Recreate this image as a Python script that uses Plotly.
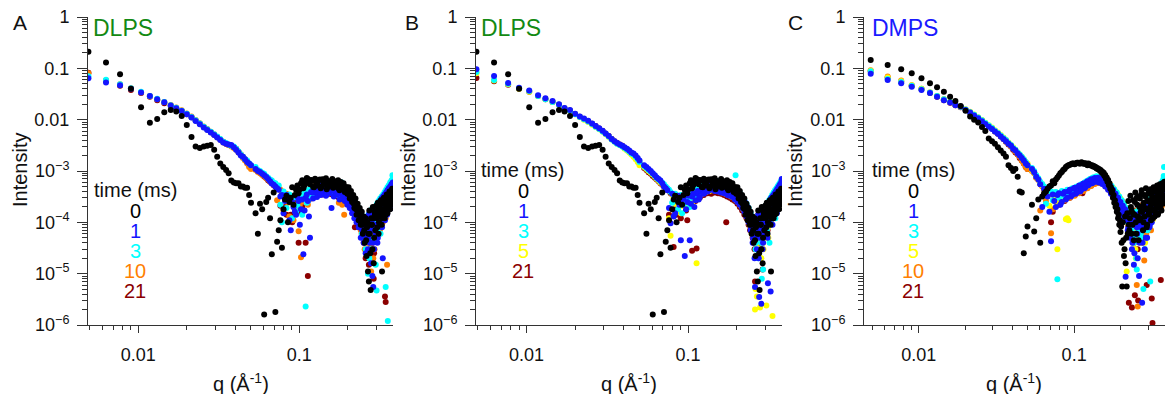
import plotly.graph_objects as go

# ---------------- data ----------------
q = [0.0049, 0.0063, 0.0077, 0.0090, 0.0104, 0.0118, 0.0131, 0.0145, 0.0159, 0.0172,
     0.0186, 0.0200, 0.0214, 0.0227, 0.0241, 0.0255, 0.0268, 0.0282, 0.0296, 0.0309,
     0.0323, 0.0337, 0.0351, 0.0364, 0.0378, 0.0392, 0.0405, 0.0419, 0.0433, 0.0446,
     0.0460, 0.0474, 0.0488, 0.0501,
     0.0535, 0.057, 0.0605, 0.064, 0.0675, 0.071, 0.0745, 0.078, 0.0815, 0.085,
     0.0885, 0.092, 0.0955, 0.099, 0.1025, 0.106, 0.1095, 0.113, 0.1165, 0.12,
     0.1235, 0.127, 0.1305, 0.134, 0.1375, 0.141, 0.1445, 0.148, 0.1515, 0.155,
     0.1585, 0.162, 0.1655, 0.169, 0.1725, 0.176, 0.1795, 0.183, 0.1865, 0.19,
     0.1935, 0.197, 0.2005, 0.204, 0.2075, 0.211, 0.2145, 0.218, 0.2215, 0.225,
     0.2285, 0.232, 0.2355, 0.239, 0.2425, 0.246, 0.2495, 0.253, 0.2565, 0.26,
     0.2635, 0.267, 0.2705, 0.274, 0.2775, 0.281, 0.2845, 0.288, 0.2915, 0.295,
     0.2985, 0.302, 0.3055, 0.309, 0.3125, 0.316, 0.3195, 0.323, 0.3265, 0.33,
     0.3335, 0.337, 0.3405, 0.344, 0.3475, 0.351, 0.3545, 0.358, 0.3615, 0.365,
     0.3685, 0.372, 0.3755, 0.379]

# second (interleaved) set of high-q points
q2 = [0.0553, 0.0588, 0.0623, 0.0658, 0.0693, 0.0728, 0.0763, 0.0798, 0.0833, 0.0868,
      0.0903, 0.0938, 0.0973, 0.1008, 0.1043, 0.1078, 0.1113, 0.1148, 0.1183, 0.1218,
      0.1253, 0.1288, 0.1323, 0.1358, 0.1393, 0.1428, 0.1463, 0.1498, 0.1533, 0.1568,
      0.1603, 0.1638, 0.1673, 0.1708, 0.1743, 0.1778, 0.1813, 0.1848, 0.1883, 0.1918,
      0.1953, 0.1988, 0.2023, 0.2058, 0.2093, 0.2128, 0.2163, 0.2198, 0.2233, 0.2268,
      0.2303, 0.2338, 0.2373, 0.2408, 0.2443, 0.2478, 0.2513, 0.2548, 0.2583, 0.2618,
      0.2653, 0.2688, 0.2723, 0.2758, 0.2793, 0.2828, 0.2863, 0.2898, 0.2933, 0.2968,
      0.3003, 0.3038, 0.3073, 0.3108, 0.3143, 0.3178, 0.3213, 0.3248, 0.3283, 0.3318,
      0.3353, 0.3388, 0.3423, 0.3458, 0.3493, 0.3528, 0.3563, 0.3598, 0.3633, 0.3668,
      0.3703, 0.3738, 0.3773, 0.3806]

# DLPS, 0 ms (panels A and B)
dlps_0 = [0.21, 0.13, 0.077, 0.040, 0.0174, 0.0087, 0.0103, 0.0139, 0.0154, 0.0144,
          0.0118, 0.0079, 0.0046, 0.0030, 0.0028, 0.0030, 0.0031, 0.0032, 0.0026, 0.0019,
          0.0014, 0.0012, 0.00105, 9.0e-4, 6.5e-4, 6.0e-4, 5.8e-4, 5.8e-4, 5.0e-4, 5.0e-4,
          4.7e-4, 4.7e-4, 3.4e-4, 2.4e-4,
          1.5e-4, 2.3e-4, 1.6e-6, 3.0e-4, 2.4e-5, 1.8e-6, 7e-5, 3.2e-5, 2.8e-4, 1.0e-4,
          3.0e-4, 2.2e-4, 4.3e-4, 3.7e-4, 5.8e-4, 4.6e-4, 6.2e-4, 7.0e-4, 5.5e-4, 6.5e-4,
          4.8e-4, 6.0e-4, 5.2e-4, 6.8e-4, 5.0e-4, 6.2e-4, 5.6e-4, 4.4e-4, 6.4e-4, 5.3e-4,
          5.9e-4, 4.7e-4, 6.3e-4, 5.1e-4, 5.7e-4, 4.5e-4, 5.4e-4, 4.9e-4, 5.2e-4, 4.3e-4,
          4.6e-4, 4.0e-4, 4.3e-4, 3.5e-4, 3.7e-4, 3.0e-4, 2.8e-4, 2.3e-4, 2.5e-4, 1.8e-4,
          2.0e-4, 1.5e-4, 1.6e-4, 1.2e-4, 1.3e-4, 9e-5, 1.1e-4, 7e-5, 1.0e-4, 4.5e-5,
          8e-5, 1.1e-5, 7e-6, 6e-5, 4.8e-6, 9e-5, 3e-5, 1.2e-4, 5e-5, 1.4e-4,
          1.5e-4, 1.6e-4, 8e-5, 1.8e-4, 1.0e-4, 2.0e-4, 1.3e-4, 1.6e-4, 1.1e-5, 1.2e-4,
          2.4e-4, 1.7e-4, 2.6e-4, 1.4e-4, 2.8e-4, 1.9e-4, 3.0e-4, 2.2e-4, 3.2e-4, 2.5e-4,
          3.4e-4, 2.7e-4, 3.6e-4, 3.0e-4]
dlps_0_b = [6e-5, 1.8e-4, 2.5e-4, 1.2e-4, 3.8e-4, 4.2e-5, 1.1e-4, 1.8e-4, 3.3e-4, 2.5e-4,
            4.8e-4, 3.4e-4, 5.2e-4, 4.4e-4, 6.6e-4, 5.3e-4, 7.3e-4, 5.9e-4, 6.7e-4, 4.9e-4,
            7.1e-4, 5.6e-4, 6.6e-4, 4.6e-4, 6.9e-4, 5.8e-4, 7.2e-4, 4.9e-4, 6.1e-4, 5.5e-4,
            7.0e-4, 4.8e-4, 6.0e-4, 5.6e-4, 6.6e-4, 4.2e-4, 6.1e-4, 5.0e-4, 5.8e-4, 3.9e-4,
            4.9e-4, 3.6e-4, 4.8e-4, 2.9e-4, 4.1e-4, 2.5e-4, 3.4e-4, 1.9e-4, 2.9e-4, 1.4e-4,
            2.3e-4, 1.1e-4, 1.9e-4, 9e-5, 1.6e-4, 6e-5, 1.3e-4, 4e-5, 1.2e-4, 2.2e-5,
            1.0e-4, 6e-5, 1.7e-4, 2.5e-5, 1.2e-4, 9e-5, 2.0e-4, 1.6e-5, 1.6e-4, 7e-5,
            2.1e-4, 1.2e-4, 2.4e-4, 6e-5, 2.2e-4, 1.4e-4, 2.7e-4, 9e-5, 2.3e-4, 1.8e-4,
            3.0e-4, 1.2e-4, 2.9e-4, 2.0e-4, 3.5e-4, 1.5e-4, 3.3e-4, 2.4e-4, 4.0e-4, 1.8e-4,
            3.8e-4, 2.9e-4, 4.5e-4, 2.2e-4]

# Panel A (DLPS)
a_1 = [0.064, 0.053, 0.047, 0.040, 0.034, 0.029, 0.025, 0.0218, 0.0188, 0.0166,
       0.0148, 0.0127, 0.0110, 0.0094, 0.0081, 0.0070, 0.0063, 0.0056, 0.0050, 0.0045,
       0.0040, 0.0036, 0.0034, 0.0033, 0.0032, 0.0029, 0.0026, 0.0023, 0.0020, 0.0019,
       0.0017, 0.0015, 0.0014, 0.0013,
       1.1e-3, 9.6e-4, 8.3e-4, 7.0e-4, 5.7e-4, 5.0e-4, 4.3e-4, 3.4e-4, 2.6e-4, 3.0e-4,
       7e-5, 2.0e-4, 1.4e-4, 2.6e-4, 1.8e-4, 2.4e-5, 3.0e-4, 2.6e-4, 5e-5, 3.8e-4,
       3.8e-4, 4.5e-4, 3.6e-4, 4.2e-4, 4.9e-4, 4.0e-4, 4.4e-4, 3.5e-4, 4.8e-4, 4.2e-4,
       1.9e-4, 4.6e-4, 4.0e-4, 4.7e-4, 3.8e-4, 4.4e-4, 3.6e-4, 4.5e-4, 3.4e-4, 4.1e-4,
       3.5e-4, 2.9e-4, 3.4e-4, 2.6e-4, 3.1e-4, 2.2e-4, 1.7e-4, 2.5e-4, 1.8e-4, 2.1e-4,
       1.5e-4, 1.2e-4, 1.7e-4, 1.0e-4, 1.4e-4, 7e-5, 1.1e-4, 6e-5, 1.2e-4, 5e-5,
       9e-5, 3e-5, 1.1e-4, 4e-5, 7e-5, 8e-5, 9e-6, 5.5e-6, 3e-5, 1.2e-4,
       6e-5, 1.4e-4, 4e-5, 1.6e-4, 9e-5, 1.9e-4, 1.2e-4, 2.2e-4, 8e-5, 2e-5,
       1.5e-4, 2.8e-4, 1.1e-4, 3.0e-4, 2.0e-4, 1.4e-4, 3.2e-4, 2.3e-4, 1.8e-4, 3.5e-4,
       2.6e-4, 4.0e-4, 1.9e-4, 4.5e-4]
a_1_b = [1.0e-3, 8.8e-4, 7.6e-4, 6.3e-4, 5.4e-4, 4.6e-4, 3.2e-4, 1.5e-4, 3.4e-4, 1.1e-4,
         2.5e-4, 1.6e-4, 3.1e-4, 9e-5, 2.8e-4, 1.7e-4, 3.5e-4, 1.3e-4, 3.9e-4, 2.9e-4,
         4.6e-4, 3.1e-4, 5.3e-4, 3.4e-4, 4.7e-4, 5.5e-4, 3.3e-4, 5.0e-4, 3.7e-4, 5.4e-4,
         4.3e-4, 3.2e-4, 5.1e-4, 3.5e-4, 4.9e-4, 2.8e-4, 4.5e-4, 3.0e-4, 4.2e-4, 2.6e-4,
         3.9e-4, 2.2e-4, 3.6e-4, 1.9e-4, 2.9e-4, 1.5e-4, 2.6e-4, 1.2e-4, 2.1e-4, 1.0e-4,
         1.8e-4, 8e-5, 1.5e-4, 5e-5, 1.2e-4, 9e-5, 4e-5, 1.0e-4, 2.5e-5, 8e-5,
         1.3e-4, 5e-5, 1.5e-4, 7e-5, 1.6e-5, 1.1e-4, 4e-5, 1.4e-4, 7e-5, 1.7e-4,
         9e-5, 2.0e-4, 5e-5, 2.3e-4, 1.3e-4, 2.6e-4, 1.0e-4, 2.9e-4, 1.6e-4, 3.2e-4,
         1.2e-4, 3.5e-4, 2.0e-4, 3.8e-4, 1.6e-4, 4.2e-4, 2.5e-4, 4.6e-4, 2.0e-4, 5.0e-4,
         3.0e-4, 5.5e-4, 2.4e-4, 6.0e-4]

a_3 = [0.070, 0.060, 0.049, 0.041, 0.035, 0.029, 0.0255, 0.022, 0.019, 0.0170,
       0.0150, 0.0130, 0.0113, 0.0097, 0.0084, 0.0073, 0.0065, 0.0058, 0.0052, 0.0047,
       0.0042, 0.0037, 0.0035, 0.0033, 0.0031, 0.0030, 0.0027, 0.0024, 0.0021, 0.0019,
       0.0017, 0.0016, 0.0014, 0.0013,
       1.2e-3, 1.0e-3, 8.8e-4, 7.4e-4, 6.5e-4, 5.8e-4, 5.2e-4, 1.0e-4, 3.0e-4, 3.3e-4,
       2.5e-4, 3.0e-4, 1.6e-4, 2.8e-4, 3.2e-4, 3.0e-4, 2.3e-6, 2.6e-4, 4.0e-4, 3.5e-4,
       4.5e-4, 4.0e-4, 4.8e-4, 4.3e-4, 5.0e-4, 4.4e-4, 5.2e-4, 4.6e-4, 5.0e-4, 4.3e-4,
       4.9e-4, 4.1e-4, 4.8e-4, 4.0e-4, 4.6e-4, 3.9e-4, 4.5e-4, 6.0e-4, 4.2e-4, 3.7e-4,
       4.0e-4, 3.3e-4, 3.7e-4, 3.1e-4, 3.3e-4, 2.6e-4, 2.9e-4, 2.3e-4, 2.4e-4, 1.9e-4,
       2.0e-4, 1.5e-4, 1.6e-4, 1.2e-4, 1.4e-4, 1.0e-4, 1.2e-4, 7e-5, 1.0e-4, 6e-5,
       8e-5, 1.0e-5, 5e-5, 9e-5, 3e-5, 7e-5, 1.1e-4, 8e-5, 5e-5, 1.0e-4,
       1.5e-5, 4.7e-6, 7e-5, 1.4e-4, 1.1e-4, 1.6e-4, 6e-5, 1.9e-4, 1.5e-4, 2.1e-4,
       1.3e-4, 2.4e-4, 1.7e-4, 5.5e-6, 1.4e-4, 3.0e-4, 1.2e-6, 3.3e-4, 2.4e-4, 3.8e-4,
       2.8e-4, 5.0e-4, 3.0e-4, 8.3e-4]
a_3_b = [1.05e-3, 9.2e-4, 7.9e-4, 6.8e-4, 5.9e-4, 5.1e-4, 2.2e-4, 4.0e-4, 1.9e-4, 3.5e-4,
         1.2e-4, 3.2e-4, 2.1e-4, 3.6e-4, 1.4e-4, 3.9e-4, 2.4e-4, 4.3e-4, 3.0e-4, 4.6e-4,
         3.5e-4, 5.4e-4, 3.9e-4, 5.8e-4, 4.2e-4, 6.1e-4, 3.8e-4, 5.7e-4, 4.1e-4, 5.9e-4,
         3.7e-4, 5.5e-4, 3.6e-4, 5.3e-4, 3.4e-4, 5.0e-4, 3.2e-4, 4.7e-4, 2.9e-4, 4.4e-4,
         2.7e-4, 4.0e-4, 2.4e-4, 3.6e-4, 2.1e-4, 3.1e-4, 1.8e-4, 2.7e-4, 1.5e-4, 2.3e-4,
         1.2e-4, 1.9e-4, 9e-5, 1.6e-4, 6e-5, 1.3e-4, 5e-5, 1.1e-4, 3e-5, 9e-5,
         6e-5, 1.4e-4, 2e-5, 1.2e-4, 8e-5, 1.8e-4, 5e-5, 1.5e-4, 9e-5, 2.0e-4,
         1.2e-4, 2.3e-4, 8e-5, 2.6e-4, 1.5e-4, 2.9e-4, 1.1e-4, 3.2e-4, 1.9e-4, 3.5e-4,
         2.2e-4, 3.9e-4, 1.6e-4, 4.3e-4, 2.6e-4, 4.8e-4, 2.1e-4, 5.3e-4, 3.1e-4, 6.0e-4,
         3.6e-4, 6.5e-4, 4.0e-4, 7.2e-4]

a_10 = [0.080, 0.058, 0.049, 0.041, 0.034, 0.029, 0.025, 0.022, 0.0192, 0.0172,
        0.0152, 0.0132, 0.0115, 0.0098, 0.0085, 0.0074, 0.0066, 0.0058, 0.0052, 0.0046,
        0.0041, 0.0036, 0.0034, 0.0032, 0.0030, 0.0028, 0.0026, 0.0023, 0.0021, 0.0018,
        0.0016, 0.0014, 0.0012, 0.0011,
        1.05e-3, 9.0e-4, 8.0e-4, 6.8e-4, 6.0e-4, 5.3e-4, 4.6e-4, 4.0e-4, 3.2e-4, 2.4e-4,
        3.0e-4, 1.1e-4, 2.2e-4, 6.7e-5, 2.1e-5, 2.6e-4, 3.1e-4, 2.2e-4, 3.6e-4, 3.9e-4,
        4.0e-4, 4.6e-4, 4.2e-4, 4.8e-4, 4.4e-4, 5.0e-4, 4.5e-4, 4.8e-4, 4.3e-4, 5.1e-4,
        4.4e-4, 4.9e-4, 4.2e-4, 4.7e-4, 4.1e-4, 2.4e-4, 4.3e-4, 3.9e-4, 4.1e-4, 1.4e-4,
        3.8e-4, 3.2e-4, 3.6e-4, 2.9e-4, 3.2e-4, 2.5e-4, 2.7e-4, 2.1e-4, 2.3e-4, 1.6e-4,
        1.9e-4, 1.4e-4, 1.5e-4, 1.1e-4, 1.3e-4, 8e-5, 1.1e-4, 9e-5, 6e-5, 1.0e-4,
        7e-5, 4e-5, 9e-5, 6e-5, 3.5e-5, 8e-5, 5e-5, 2e-5, 9e-5, 6e-5,
        1.1e-4, 8e-5, 1.3e-4, 1.0e-4, 1.5e-4, 7e-5, 1.7e-4, 1.3e-4, 1.9e-4, 1.0e-4,
        2.2e-4, 1.6e-4, 2.5e-4, 1.2e-4, 2.7e-4, 1.5e-5, 2.9e-4, 2.0e-4, 3.2e-4, 2.4e-4,
        3.4e-4, 2.8e-4, 3.7e-4, 3.2e-4]
a_10_b = [9.6e-4, 8.4e-4, 7.2e-4, 6.2e-4, 5.4e-4, 2.7e-4, 4.3e-4, 1.7e-4, 3.6e-4, 1.3e-4,
          2.9e-4, 1.8e-4, 3.3e-4, 2.2e-4, 3.7e-4, 2.6e-4, 4.0e-4, 3.0e-4, 4.3e-4, 3.3e-4,
          5.1e-4, 3.6e-4, 5.5e-4, 3.9e-4, 5.7e-4, 4.1e-4, 5.8e-4, 3.9e-4, 5.6e-4, 3.8e-4,
          5.4e-4, 3.6e-4, 5.2e-4, 3.4e-4, 4.9e-4, 3.2e-4, 4.6e-4, 2.2e-4, 4.3e-4, 2.7e-4,
          4.0e-4, 2.4e-4, 3.6e-4, 2.1e-4, 3.1e-4, 1.8e-4, 2.7e-4, 1.5e-4, 2.3e-4, 1.2e-4,
          1.9e-4, 1.0e-4, 1.6e-4, 7e-5, 1.3e-4, 5e-5, 1.1e-4, 3e-5, 9e-5, 6e-5,
          1.2e-4, 4e-5, 1.4e-4, 8e-5, 1.1e-5, 1.1e-4, 6e-5, 1.6e-4, 3e-5, 1.3e-4,
          9e-5, 1.8e-4, 1.2e-4, 2.1e-4, 6e-5, 2.4e-4, 1.4e-4, 2.7e-4, 1.8e-4, 3.0e-4,
          1.3e-4, 3.3e-4, 2.1e-4, 3.6e-4, 1.7e-4, 4.0e-4, 2.5e-4, 4.4e-4, 2.0e-4, 4.8e-4,
          3.0e-4, 5.2e-4, 2.6e-4, 5.7e-4]

a_21 = [0.082, 0.057, 0.046, 0.038, 0.033, 0.028, 0.024, 0.021, 0.0185, 0.0165,
        0.0147, 0.0127, 0.0111, 0.0096, 0.0083, 0.0072, 0.0064, 0.0057, 0.0051, 0.0046,
        0.0041, 0.0037, 0.0034, 0.0032, 0.0031, 0.0029, 0.0027, 0.0024, 0.0021, 0.0019,
        0.0017, 0.0015, 0.0013, 0.0012,
        1.1e-3, 9.2e-4, 7.8e-4, 6.6e-4, 5.8e-4, 5.0e-4, 4.4e-4, 3.7e-4, 2.0e-4, 3.2e-4,
        1.4e-4, 2.6e-4, 2.0e-4, 4.0e-5, 1.6e-4, 2.8e-4, 4e-5, 9e-6, 3.4e-4, 3.8e-4,
        3.6e-4, 4.2e-4, 4.0e-4, 4.4e-4, 3.8e-4, 4.6e-4, 4.1e-4, 4.5e-4, 4.0e-4, 4.7e-4,
        4.2e-4, 4.6e-4, 4.1e-4, 4.4e-4, 4.0e-4, 4.2e-4, 3.9e-4, 4.0e-4, 3.7e-4, 3.9e-4,
        3.4e-4, 3.6e-4, 3.0e-4, 3.2e-4, 2.6e-4, 2.8e-4, 2.2e-4, 2.4e-4, 8e-5, 2.0e-4,
        1.6e-4, 1.7e-4, 1.3e-4, 1.4e-4, 1.1e-4, 1.2e-4, 9e-5, 1.0e-4, 7e-5, 8e-5,
        6e-5, 7e-5, 1.5e-5, 6e-5, 5e-5, 9e-5, 4e-5, 7e-5, 2.5e-5, 9e-5,
        6e-5, 1.1e-4, 8e-5, 1.3e-4, 1.0e-4, 1.5e-4, 1.2e-4, 1.7e-4, 1.3e-4, 1.9e-4,
        1.5e-4, 2.1e-4, 3.6e-6, 2.8e-6, 1.9e-4, 2.5e-4, 2.1e-4, 2.7e-4, 2.3e-4, 2.9e-4,
        2.5e-4, 3.1e-4, 2.7e-4, 3.3e-4]
a_21_b = [1.0e-3, 8.6e-4, 7.3e-4, 6.2e-4, 5.3e-4, 4.6e-4, 2.1e-4, 3.4e-4, 1.4e-4, 3.0e-4,
          1.0e-4, 2.7e-4, 1.6e-4, 3.1e-4, 2.0e-4, 3.4e-4, 2.5e-4, 3.7e-4, 2.9e-4, 4.1e-4,
          3.3e-4, 4.9e-4, 3.6e-4, 5.2e-4, 3.5e-4, 5.4e-4, 3.7e-4, 5.2e-4, 3.6e-4, 5.0e-4,
          3.5e-4, 4.9e-4, 3.3e-4, 4.7e-4, 3.1e-4, 4.4e-4, 2.9e-4, 4.1e-4, 2.7e-4, 3.8e-4,
          2.5e-4, 3.5e-4, 2.2e-4, 3.1e-4, 1.9e-4, 2.7e-4, 1.6e-4, 2.3e-4, 1.3e-4, 1.9e-4,
          1.1e-4, 1.6e-4, 8e-5, 1.3e-4, 6e-5, 1.1e-4, 4e-5, 9e-5, 2e-5, 7e-5,
          1.1e-4, 5e-5, 1.3e-4, 3e-5, 1.0e-4, 6e-5, 1.5e-4, 8e-6, 1.2e-4, 7e-5,
          1.7e-4, 1.0e-4, 2.0e-4, 6e-5, 2.3e-4, 1.3e-4, 2.6e-4, 9e-5, 2.9e-4, 1.7e-4,
          3.2e-4, 1.4e-4, 3.5e-4, 2.1e-4, 3.9e-4, 1.7e-4, 4.3e-4, 2.6e-4, 4.7e-4, 2.1e-4,
          5.1e-4, 3.1e-4, 5.6e-4, 2.6e-4]

# Panel B (DLPS)
b_1 = [0.096, 0.071, 0.052, 0.042, 0.037, 0.030, 0.026, 0.023, 0.0200, 0.0168,
       0.0154, 0.0130, 0.0115, 0.0105, 0.0095, 0.0084, 0.0075, 0.0068, 0.0061, 0.0054,
       0.0048, 0.0042, 0.0038, 0.0035, 0.0033, 0.0031, 0.0029, 0.0027, 0.0025, 0.0023,
       0.0022, 0.0020, 0.0018, 0.0016,
       1.3e-3, 1.1e-3, 9.0e-4, 7.5e-4, 6.5e-4, 5.0e-4, 4.2e-4, 9.6e-5, 1.3e-4, 3.0e-4,
       2.2e-4, 2.8e-4, 2.2e-5, 2.5e-4, 4.5e-5, 3.2e-4, 2.0e-4, 3.6e-4, 2.8e-4, 4.0e-4,
       4.4e-4, 3.8e-4, 4.8e-4, 4.2e-4, 5.2e-4, 4.5e-4, 5.0e-4, 4.3e-4, 5.3e-4, 4.6e-4,
       5.0e-4, 4.2e-4, 5.4e-4, 4.4e-4, 5.0e-4, 3.4e-4, 4.7e-4, 4.1e-4, 5.1e-4, 3.8e-4,
       4.2e-4, 3.4e-4, 3.8e-4, 2.9e-4, 3.3e-4, 2.4e-4, 2.8e-4, 2.0e-4, 2.3e-4, 1.6e-4,
       1.8e-4, 1.3e-4, 1.5e-4, 1.0e-4, 1.2e-4, 8e-5, 9e-5, 5e-5, 7e-5, 5.5e-6,
       6e-5, 3e-5, 7e-5, 2e-5, 8e-5, 5e-5, 2.6e-6, 7e-5, 4e-5, 9e-5,
       6e-5, 1.1e-4, 8e-5, 1.3e-4, 6.5e-6, 1.5e-4, 1.1e-4, 1.8e-4, 1.4e-4, 2.1e-4,
       9e-5, 2.4e-4, 1.7e-4, 2.7e-4, 2.0e-4, 3.0e-4, 1.5e-4, 3.3e-4, 2.5e-4, 3.7e-4,
       2.9e-4, 4.2e-4, 3.2e-4, 5.5e-4]
b_1_b = [1.2e-3, 1.0e-3, 8.3e-4, 7.0e-4, 5.8e-4, 4.6e-4, 1.9e-4, 3.6e-4, 1.5e-4, 3.3e-4,
         4.5e-5, 2.9e-4, 1.8e-4, 3.3e-4, 2.3e-4, 3.7e-4, 2.7e-4, 4.1e-4, 3.1e-4, 4.6e-4,
         3.6e-4, 5.5e-4, 4.0e-4, 5.9e-4, 4.3e-4, 6.2e-4, 4.1e-4, 6.0e-4, 4.0e-4, 5.8e-4,
         3.8e-4, 5.6e-4, 3.7e-4, 5.4e-4, 3.5e-4, 5.1e-4, 3.3e-4, 4.8e-4, 3.1e-4, 4.5e-4,
         2.8e-4, 4.1e-4, 2.5e-4, 3.7e-4, 2.2e-4, 3.2e-4, 1.9e-4, 2.8e-4, 1.6e-4, 2.4e-4,
         1.3e-4, 2.0e-4, 1.0e-4, 1.6e-4, 7e-5, 1.3e-4, 4e-5, 1.1e-4, 2e-5, 8e-5,
         1.2e-4, 5e-5, 1.4e-4, 3.5e-6, 1.1e-4, 6e-5, 1.6e-4, 3e-5, 1.3e-4, 8e-5,
         1.8e-4, 1.0e-4, 2.1e-4, 5e-5, 2.4e-4, 1.4e-4, 2.7e-4, 4.5e-6, 3.0e-4, 1.8e-4,
         3.3e-4, 1.5e-4, 3.6e-4, 2.2e-4, 4.0e-4, 1.8e-4, 4.4e-4, 2.8e-4, 4.9e-4, 2.3e-4,
         5.4e-4, 3.4e-4, 6.0e-4, 7.0e-4]

b_3 = [0.085, 0.059, 0.050, 0.041, 0.036, 0.029, 0.025, 0.022, 0.0195, 0.0165,
       0.0150, 0.0128, 0.0113, 0.0102, 0.0092, 0.0082, 0.0073, 0.0066, 0.0059, 0.0053,
       0.0047, 0.0041, 0.0037, 0.0034, 0.0032, 0.0030, 0.0028, 0.0026, 0.0024, 0.0022,
       0.0021, 0.0019, 0.0017, 0.0015,
       1.25e-3, 1.05e-3, 8.8e-4, 7.3e-4, 6.3e-4, 5.5e-4, 4.6e-4, 3.9e-4, 3.4e-4, 2.7e-4,
       3.1e-4, 1.5e-4, 2.9e-4, 3.2e-4, 2.0e-4, 3.4e-4, 3.7e-4, 2.9e-4, 4.1e-4, 4.5e-4,
       4.9e-4, 4.3e-4, 5.3e-4, 4.6e-4, 5.5e-4, 4.8e-4, 5.6e-4, 5.0e-4, 5.4e-4, 4.7e-4,
       5.5e-4, 4.8e-4, 5.2e-4, 4.5e-4, 5.0e-4, 4.4e-4, 4.8e-4, 4.2e-4, 4.6e-4, 4.0e-4,
       4.3e-4, 8.3e-4, 3.9e-4, 3.3e-4, 3.6e-4, 2.8e-4, 3.0e-4, 2.3e-4, 2.5e-4, 1.9e-4,
       2.0e-4, 1.5e-4, 1.6e-4, 1.2e-4, 1.3e-4, 9e-5, 1.0e-4, 7e-5, 8e-5, 6e-5,
       4e-5, 7e-5, 5e-5, 2.5e-5, 8e-5, 6e-5, 4e-5, 9e-5, 1.2e-5, 1.1e-4,
       8e-5, 1.3e-4, 1.0e-4, 1.5e-4, 1.2e-4, 1.7e-4, 4e-5, 2.0e-4, 1.6e-4, 2.3e-4,
       1.9e-4, 2.6e-4, 2.2e-4, 2.9e-4, 1.2e-4, 3.2e-4, 2.7e-4, 3.6e-4, 3.0e-4, 4.0e-4,
       3.4e-4, 4.5e-4, 3.8e-4, 5.0e-4]
b_3_b = [1.15e-3, 9.7e-4, 8.1e-4, 6.8e-4, 5.9e-4, 5.0e-4, 4.3e-4, 2.4e-4, 3.6e-4, 1.8e-4,
         3.4e-4, 2.2e-4, 3.7e-4, 2.6e-4, 4.1e-4, 3.0e-4, 4.5e-4, 3.4e-4, 4.9e-4, 3.8e-4,
         5.8e-4, 4.2e-4, 6.2e-4, 4.5e-4, 6.5e-4, 4.7e-4, 6.6e-4, 4.6e-4, 6.4e-4, 4.5e-4,
         6.2e-4, 4.3e-4, 6.0e-4, 4.1e-4, 5.7e-4, 3.9e-4, 5.4e-4, 3.6e-4, 5.0e-4, 3.4e-4,
         4.6e-4, 3.1e-4, 4.2e-4, 2.7e-4, 3.7e-4, 2.4e-4, 3.2e-4, 2.0e-4, 2.7e-4, 1.7e-4,
         2.3e-4, 1.4e-4, 1.9e-4, 1.1e-4, 1.5e-4, 8e-5, 1.2e-4, 5e-5, 1.0e-4, 3e-5,
         8e-5, 1.3e-4, 2e-5, 1.1e-4, 6e-5, 1.5e-4, 8e-6, 1.3e-4, 9e-5, 1.8e-4,
         1.1e-4, 2.1e-4, 7e-5, 2.4e-4, 1.4e-4, 2.7e-4, 1.0e-4, 3.0e-4, 1.8e-4, 3.4e-4,
         2.2e-4, 3.8e-4, 1.6e-4, 4.2e-4, 2.7e-4, 4.6e-4, 2.2e-4, 5.1e-4, 3.2e-4, 5.6e-4,
         3.7e-4, 6.2e-4, 4.2e-4, 6.8e-4]

b_5 = [0.080, 0.058, 0.049, 0.040, 0.035, 0.029, 0.025, 0.022, 0.0192, 0.0163,
       0.0148, 0.0127, 0.0112, 0.0100, 0.0090, 0.0080, 0.0072, 0.0065, 0.0058, 0.0052,
       0.0046, 0.0041, 0.0037, 0.0034, 0.0032, 0.0030, 0.0027, 0.0025, 0.0023, 0.0021,
       0.0019, 0.0017, 0.0015, 0.0013,
       1.2e-3, 1.0e-3, 8.5e-4, 7.1e-4, 6.0e-4, 5.2e-4, 4.5e-4, 5.5e-5, 3.1e-4, 2.6e-4,
       2.8e-4, 2.1e-4, 2.6e-4, 1.9e-4, 3.0e-4, 2.5e-4, 3.3e-4, 1.6e-5, 3.6e-4, 4.1e-4,
       4.2e-4, 4.6e-4, 4.3e-4, 4.9e-4, 4.5e-4, 5.0e-4, 4.6e-4, 5.1e-4, 4.5e-4, 4.9e-4,
       4.4e-4, 4.8e-4, 4.3e-4, 4.7e-4, 4.1e-4, 4.5e-4, 3.9e-4, 4.2e-4, 3.7e-4, 4.0e-4,
       3.5e-4, 3.7e-4, 3.1e-4, 3.3e-4, 2.7e-4, 2.9e-4, 2.3e-4, 2.5e-4, 1.9e-4, 2.1e-4,
       1.6e-4, 1.7e-4, 1.3e-4, 1.4e-4, 1.0e-4, 1.1e-4, 7e-5, 8e-5, 5e-5, 2.0e-6,
       6e-5, 3.6e-6, 4e-5, 7e-5, 3e-5, 6e-5, 2e-5, 8e-5, 4e-5, 9e-5,
       5e-5, 1.0e-4, 2.4e-6, 1.2e-4, 8e-5, 1.4e-4, 1.0e-4, 1.6e-4, 1.2e-4, 1.9e-4,
       1.5e-6, 2.2e-4, 1.6e-4, 2.5e-4, 1.9e-4, 2.8e-4, 2.2e-4, 3.1e-4, 2.5e-4, 3.5e-4,
       2.8e-4, 4.0e-4, 3.1e-4, 4.4e-4]
b_5_b = [1.1e-3, 9.2e-4, 7.8e-4, 6.5e-4, 5.6e-4, 4.8e-4, 1.2e-4, 3.5e-4, 2.3e-4, 3.2e-4,
         1.5e-4, 2.7e-4, 3.6e-4, 2.4e-4, 3.9e-4, 2.8e-4, 4.2e-4, 3.2e-4, 4.6e-4, 3.6e-4,
         5.2e-4, 3.9e-4, 5.5e-4, 4.1e-4, 5.7e-4, 4.2e-4, 5.8e-4, 4.1e-4, 5.6e-4, 4.0e-4,
         5.4e-4, 3.8e-4, 5.2e-4, 3.6e-4, 4.9e-4, 3.4e-4, 4.6e-4, 3.2e-4, 4.3e-4, 3.0e-4,
         4.0e-4, 2.7e-4, 3.6e-4, 2.4e-4, 3.2e-4, 2.1e-4, 2.8e-4, 1.8e-4, 2.4e-4, 1.5e-4,
         2.0e-4, 1.2e-4, 1.6e-4, 9e-5, 1.3e-4, 6e-5, 1.0e-4, 4e-5, 8e-5, 5e-6,
         1.1e-4, 4e-5, 1.3e-4, 7e-5, 2.2e-6, 1.0e-4, 5e-5, 1.4e-4, 3e-5, 1.2e-4,
         8e-5, 1.7e-4, 1.1e-4, 2.0e-4, 5e-5, 2.3e-4, 1.3e-4, 2.6e-4, 1.7e-4, 2.9e-4,
         1.2e-4, 3.2e-4, 2.0e-4, 3.5e-4, 1.6e-4, 3.9e-4, 2.4e-4, 4.3e-4, 1.9e-4, 4.7e-4,
         2.9e-4, 5.1e-4, 2.5e-4, 5.6e-4]

b_21 = [0.065, 0.056, 0.048, 0.040, 0.035, 0.029, 0.025, 0.022, 0.0195, 0.0166,
        0.0151, 0.0129, 0.0114, 0.0103, 0.0093, 0.0083, 0.0075, 0.0067, 0.0060, 0.0054,
        0.0048, 0.0042, 0.0038, 0.0035, 0.0033, 0.0031, 0.0028, 0.0026, 0.0024, 0.0022,
        0.0020, 0.0018, 0.0016, 0.0014,
        1.15e-3, 9.5e-4, 8.0e-4, 6.8e-4, 5.8e-4, 5.0e-4, 4.3e-4, 3.7e-4, 3.3e-5, 1.4e-4,
        2.7e-4, 2.3e-4, 2.6e-4, 1.1e-4, 2.9e-4, 2.8e-5, 3.2e-4, 3.1e-5, 3.5e-4, 3.8e-4,
        4.1e-4, 4.5e-4, 4.2e-4, 4.7e-4, 4.4e-4, 4.8e-4, 4.5e-4, 4.9e-4, 4.4e-4, 4.7e-4,
        4.3e-4, 4.6e-4, 4.1e-4, 4.4e-4, 1.0e-4, 4.2e-4, 3.8e-4, 4.0e-4, 3.6e-4, 3.8e-4,
        3.3e-4, 3.5e-4, 3.0e-4, 3.2e-4, 2.6e-4, 2.8e-4, 2.2e-4, 2.4e-4, 1.9e-4, 2.0e-4,
        1.6e-4, 1.7e-4, 1.3e-4, 1.4e-4, 7e-5, 1.1e-4, 9e-5, 1.0e-4, 7e-5, 7e-6,
        6e-5, 4e-5, 7e-5, 5e-5, 8e-5, 3e-5, 7e-5, 9e-5, 6e-5, 1.0e-4,
        7e-5, 1.2e-4, 9e-5, 1.4e-4, 1.1e-4, 1.6e-4, 1.3e-4, 1.8e-4, 1.5e-4, 2.0e-4,
        1.7e-4, 2.2e-4, 1.9e-4, 2.4e-4, 2.1e-4, 2.7e-4, 2.3e-4, 2.9e-4, 2.6e-4, 3.2e-4,
        2.9e-4, 3.5e-4, 3.2e-4, 3.8e-4]
b_21_b = [1.05e-3, 8.8e-4, 7.4e-4, 6.3e-4, 5.4e-4, 4.7e-4, 1.4e-4, 3.5e-4, 1.8e-4, 3.1e-4,
          1.2e-4, 2.8e-4, 1.7e-4, 3.2e-4, 2.2e-4, 3.5e-4, 2.6e-4, 3.8e-4, 3.0e-4, 4.2e-4,
          3.4e-4, 5.0e-4, 3.7e-4, 5.3e-4, 3.6e-4, 5.5e-4, 3.8e-4, 5.3e-4, 3.7e-4, 5.1e-4,
          3.6e-4, 5.0e-4, 3.4e-4, 4.8e-4, 3.2e-4, 4.5e-4, 3.0e-4, 4.2e-4, 2.8e-4, 3.9e-4,
          2.6e-4, 3.6e-4, 2.3e-4, 3.2e-4, 2.0e-4, 2.8e-4, 1.7e-4, 2.4e-4, 1.4e-4, 2.0e-4,
          1.2e-4, 1.7e-4, 9e-5, 1.4e-4, 7e-5, 1.2e-4, 5e-5, 1.0e-4, 3e-5, 8e-5,
          1.2e-4, 6e-5, 1.4e-4, 4e-5, 1.1e-4, 7e-5, 1.6e-4, 1.2e-5, 1.3e-4, 8e-5,
          1.8e-4, 1.1e-4, 2.1e-4, 7e-5, 2.4e-4, 1.4e-4, 2.7e-4, 1.0e-4, 3.0e-4, 1.8e-4,
          3.3e-4, 1.5e-4, 3.6e-4, 2.2e-4, 4.0e-4, 1.8e-4, 4.4e-4, 2.7e-4, 4.8e-4, 2.2e-4,
          5.2e-4, 3.2e-4, 5.7e-4, 2.7e-4]

# Panel C (DMPS)
c_0 = [0.145, 0.116, 0.096, 0.080, 0.064, 0.051, 0.043, 0.035, 0.028, 0.023,
       0.0185, 0.015, 0.0115, 0.0100, 0.0088, 0.0072, 0.0060, 0.0043, 0.0038, 0.0034,
       0.0029, 0.0025, 0.0022, 0.0019, 0.0013, 0.00115, 0.0010, 1.1e-3, 7.7e-4, 4.0e-4,
       3.8e-4, 2.5e-5, 5.3e-5, 8.3e-5,
       2.2e-4, 1.2e-4, 4e-5, 3.7e-4, 4.5e-4, 5.2e-4, 5.8e-4, 7.5e-4, 9e-4, 1.05e-3,
       1.2e-3, 1.3e-3, 1.35e-3, 1.4e-3, 1.4e-3, 1.45e-3, 1.4e-3, 1.45e-3, 1.4e-3, 1.35e-3,
       1.4e-3, 1.3e-3, 1.3e-3, 1.25e-3, 1.2e-3, 1.15e-3, 1.1e-3, 1.05e-3, 9.8e-4, 9.2e-4,
       8.4e-4, 7.5e-4, 6.7e-4, 5.8e-4, 4.8e-4, 4.2e-4, 3.4e-4, 2.7e-4, 2.2e-4, 1.8e-4,
       1.4e-4, 1.1e-4, 8.3e-5, 5.6e-6, 4.5e-5, 3e-5, 1.6e-5, 5.6e-6, 6e-5, 9e-5,
       1.2e-4, 2.0e-4, 6e-5, 1.5e-4, 4.5e-5, 2.5e-4, 1.0e-4, 3.0e-4, 1.3e-4, 4.5e-5,
       2.0e-4, 1.2e-4, 3.5e-4, 1.6e-4, 7e-5, 2.4e-4, 1.3e-4, 3.2e-4, 1.8e-4, 9e-5,
       2.6e-4, 1.5e-4, 3.8e-4, 2.0e-4, 1.1e-4, 2.8e-4, 1.7e-4, 4.0e-4, 2.3e-4, 1.3e-4,
       3.0e-4, 1.9e-4, 4.3e-4, 2.5e-4, 1.5e-4, 3.3e-4, 2.1e-4, 4.6e-4, 2.7e-4, 1.7e-4,
       3.6e-4, 2.3e-4, 5.0e-4, 3.0e-4]
c_0_b = [6.6e-5, 2.8e-4, 3.2e-4, 4.0e-4, 5.0e-4, 6.3e-4, 6.8e-4, 8.2e-4, 9.6e-4, 1.1e-3,
         1.25e-3, 1.32e-3, 1.4e-3, 1.35e-3, 1.45e-3, 1.4e-3, 1.48e-3, 1.38e-3, 1.42e-3, 1.3e-3,
         1.35e-3, 1.28e-3, 1.22e-3, 1.2e-3, 1.12e-3, 1.08e-3, 1.02e-3, 9.5e-4, 8.8e-4, 8.0e-4,
         7.1e-4, 6.2e-4, 5.3e-4, 4.5e-4, 3.8e-4, 3.0e-4, 2.4e-4, 2.0e-4, 1.6e-4, 1.2e-4,
         9e-5, 6.5e-5, 4e-5, 1.0e-4, 2.2e-5, 1.3e-4, 5e-5, 1.5e-4, 2.6e-4, 7e-5,
         3.3e-4, 1.7e-4, 9e-5, 2.7e-4, 1.4e-4, 3.8e-4, 6e-5, 2.2e-4, 3.2e-4, 1.1e-4,
         2.9e-4, 1.6e-4, 4.2e-4, 2.1e-4, 1.0e-4, 3.4e-4, 1.9e-4, 4.6e-4, 8e-5, 2.7e-4,
         3.7e-4, 1.4e-4, 2.5e-4, 4.4e-4, 1.8e-4, 3.2e-4, 1.2e-4, 4.8e-4, 2.7e-4, 1.6e-4,
         3.9e-4, 2.2e-4, 5.2e-4, 1.4e-4, 3.5e-4, 2.6e-4, 5.5e-4, 1.9e-4, 4.0e-4, 3.0e-4,
         5.8e-4, 2.4e-4, 4.4e-4, 6.2e-4]

c_1 = [0.078, 0.059, 0.051, 0.044, 0.038, 0.033, 0.028, 0.024, 0.0215, 0.019,
       0.018, 0.0155, 0.0138, 0.0120, 0.0106, 0.0093, 0.0082, 0.0073, 0.0066, 0.0059,
       0.0053, 0.0047, 0.0042, 0.0038, 0.0034, 0.0031, 0.0027, 0.0025, 0.0022, 0.0020,
       0.0018, 0.0016, 0.0014, 0.0013,
       1.1e-3, 7.7e-4, 5.5e-4, 4.5e-4, 3.2e-4, 4.3e-5, 2.6e-4, 3.4e-4, 2.2e-4, 3.6e-4,
       2.8e-4, 4.0e-4, 3.2e-4, 4.5e-4, 3.6e-4, 4.9e-4, 4.0e-4, 5.4e-4, 4.6e-4, 6.0e-4,
       5.3e-4, 6.6e-4, 5.8e-4, 7.0e-4, 6.2e-4, 7.2e-4, 6.0e-4, 6.8e-4, 5.6e-4, 6.2e-4,
       5.0e-4, 5.6e-4, 4.3e-4, 4.8e-4, 3.6e-4, 4.0e-4, 3.0e-4, 3.3e-4, 2.4e-4, 2.7e-4,
       1.9e-4, 2.2e-4, 1.6e-4, 1.9e-4, 1.3e-4, 1.6e-4, 8.7e-6, 1.3e-4, 7e-5, 1.1e-4,
       5e-5, 1.0e-4, 3e-5, 9e-5, 1.5e-5, 1.2e-4, 6e-5, 8e-5, 2e-5, 1.1e-4,
       4e-5, 9e-5, 1.4e-4, 2.7e-6, 7e-5, 1.3e-4, 3e-5, 1.0e-4, 1.6e-4, 5e-5,
       1.2e-4, 1.9e-4, 8e-5, 1.5e-4, 2.2e-4, 1.0e-4, 1.7e-4, 2.5e-4, 1.3e-4, 2.0e-4,
       2.8e-4, 1.5e-4, 2.3e-4, 3.1e-4, 1.8e-4, 2.6e-4, 3.4e-4, 2.1e-4, 3.0e-4, 3.8e-4,
       2.4e-4, 3.4e-4, 4.2e-4, 2.8e-4]
c_1_b = [9.5e-4, 6.8e-4, 2.0e-4, 4.1e-4, 1.6e-4, 3.5e-4, 2.0e-4, 3.7e-4, 2.5e-4, 3.9e-4,
         3.0e-4, 4.3e-4, 3.4e-4, 4.7e-4, 3.8e-4, 5.2e-4, 4.3e-4, 5.7e-4, 4.8e-4, 6.3e-4,
         5.5e-4, 6.9e-4, 6.0e-4, 7.3e-4, 6.4e-4, 7.4e-4, 6.3e-4, 7.1e-4, 5.9e-4, 6.6e-4,
         5.3e-4, 5.9e-4, 4.6e-4, 5.1e-4, 3.9e-4, 4.3e-4, 3.2e-4, 3.6e-4, 2.6e-4, 3.0e-4,
         2.1e-4, 2.5e-4, 1.7e-4, 2.1e-4, 1.4e-4, 1.8e-4, 1.1e-4, 1.5e-4, 8e-5, 1.3e-4,
         6e-5, 1.1e-4, 4e-5, 1.2e-4, 2.5e-5, 1.0e-4, 1.4e-4, 6e-5, 1.2e-4, 9e-6,
         1.5e-4, 8e-5, 1.1e-4, 4e-5, 1.7e-4, 9e-5, 1.3e-4, 5e-5, 1.9e-4, 1.1e-4,
         1.5e-4, 2.2e-4, 9e-5, 1.8e-4, 2.5e-4, 1.2e-4, 2.1e-4, 2.9e-4, 1.5e-4, 2.4e-4,
         3.2e-4, 1.8e-4, 2.7e-4, 3.6e-4, 2.1e-4, 3.0e-4, 4.0e-4, 2.4e-4, 3.4e-4, 4.5e-4,
         2.8e-4, 3.9e-4, 5.0e-4, 3.3e-4]

c_3 = [0.088, 0.062, 0.054, 0.046, 0.039, 0.034, 0.029, 0.025, 0.022, 0.0195,
       0.0178, 0.0158, 0.0140, 0.0124, 0.0110, 0.0097, 0.0086, 0.0077, 0.0069, 0.0061,
       0.0055, 0.0049, 0.0044, 0.0040, 0.0035, 0.0032, 0.0028, 0.0026, 0.0023, 0.0021,
       0.0019, 0.0017, 0.0015, 0.0013,
       1.15e-3, 8.3e-4, 6.2e-4, 5.0e-4, 4.4e-4, 4.0e-4, 3.8e-4, 7.8e-6, 3.7e-4, 3.8e-4,
       3.9e-4, 4.1e-4, 4.3e-4, 4.5e-4, 4.8e-4, 5.0e-4, 5.3e-4, 5.6e-4, 5.9e-4, 6.3e-4,
       6.6e-4, 7.0e-4, 7.2e-4, 7.5e-4, 7.5e-4, 7.4e-4, 7.2e-4, 6.9e-4, 6.6e-4, 6.2e-4,
       5.8e-4, 5.4e-4, 5.0e-4, 4.6e-4, 4.2e-4, 3.8e-4, 3.5e-4, 3.1e-4, 2.8e-4, 2.5e-4,
       2.3e-4, 2.1e-4, 1.9e-4, 1.7e-4, 1.5e-4, 1.4e-4, 1.2e-4, 1.1e-4, 1.0e-4, 1.2e-4,
       8e-5, 1.4e-4, 6e-5, 1.1e-4, 4e-5, 1.5e-4, 9e-5, 1.2e-5, 1.3e-4, 7e-5,
       1.7e-4, 5e-5, 1.1e-4, 2.0e-4, 8e-5, 1.4e-4, 3e-5, 2.2e-4, 1.2e-4, 1.7e-4,
       9e-5, 2.5e-4, 1.5e-4, 7e-6, 2.0e-4, 2.8e-4, 1.3e-4, 2.3e-4, 3.2e-4, 1.8e-4,
       2.7e-4, 3.6e-4, 2.1e-4, 3.1e-4, 4.0e-4, 2.5e-4, 3.5e-4, 4.5e-4, 3.0e-4, 4.0e-4,
       5.5e-4, 3.5e-4, 7.0e-4, 1.2e-3]
c_3_b = [1.0e-3, 7.2e-4, 5.6e-4, 2.3e-4, 4.2e-4, 2.7e-4, 3.9e-4, 3.0e-4, 4.1e-4, 3.2e-4,
         4.3e-4, 3.6e-4, 4.6e-4, 4.0e-4, 5.0e-4, 4.4e-4, 5.5e-4, 4.9e-4, 6.1e-4, 5.4e-4,
         6.8e-4, 6.0e-4, 7.5e-4, 6.6e-4, 7.9e-4, 6.8e-4, 7.7e-4, 6.6e-4, 7.2e-4, 6.0e-4,
         6.5e-4, 5.3e-4, 5.8e-4, 4.6e-4, 5.1e-4, 4.0e-4, 4.4e-4, 3.4e-4, 3.8e-4, 2.9e-4,
         3.2e-4, 2.4e-4, 2.7e-4, 2.0e-4, 2.3e-4, 1.6e-4, 1.9e-4, 1.3e-4, 1.6e-4, 1.0e-4,
         1.4e-4, 7e-5, 1.3e-4, 5e-5, 1.6e-4, 9e-5, 2.0e-5, 1.4e-4, 8e-5, 1.8e-4,
         1.1e-4, 6e-5, 2.0e-4, 1.3e-4, 5e-6, 1.6e-4, 9e-5, 2.3e-4, 1.4e-4, 7e-5,
         2.6e-4, 1.7e-4, 1.1e-4, 2.9e-4, 1.9e-4, 3.3e-4, 1.4e-4, 2.4e-4, 3.7e-4, 2.0e-4,
         3.0e-4, 4.2e-4, 2.4e-4, 3.5e-4, 4.8e-4, 2.9e-4, 4.0e-4, 5.5e-4, 3.4e-4, 4.6e-4,
         6.3e-4, 4.1e-4, 8.0e-4, 5.2e-4]

c_5 = [0.090, 0.066, 0.056, 0.047, 0.040, 0.034, 0.029, 0.025, 0.022, 0.0195,
       0.018, 0.0160, 0.0142, 0.0126, 0.0111, 0.0098, 0.0087, 0.0078, 0.0070, 0.0062,
       0.0056, 0.0050, 0.0045, 0.0040, 0.0036, 0.0032, 0.0029, 0.0026, 0.0023, 0.0021,
       0.0019, 0.0017, 0.0015, 0.0014,
       1.05e-3, 7.8e-4, 5.8e-4, 4.7e-4, 4.0e-4, 3.6e-4, 3.4e-4, 3.0e-5, 3.3e-4, 3.4e-4,
       1.15e-4, 1.1e-4, 4.0e-4, 4.2e-4, 4.5e-4, 4.8e-4, 5.1e-4, 5.4e-4, 5.8e-4, 6.1e-4,
       6.4e-4, 6.8e-4, 7.1e-4, 7.3e-4, 7.3e-4, 7.1e-4, 6.9e-4, 6.6e-4, 6.3e-4, 5.9e-4,
       5.5e-4, 5.1e-4, 4.8e-4, 4.4e-4, 4.0e-4, 3.7e-4, 3.3e-4, 3.0e-4, 2.7e-4, 2.4e-4,
       2.2e-4, 2.0e-4, 1.8e-4, 1.6e-4, 1.5e-4, 1.3e-4, 1.2e-4, 1.1e-5, 1.1e-4, 9e-5,
       1.3e-4, 6e-5, 1.0e-4, 4e-5, 1.4e-4, 8e-5, 2e-5, 1.2e-4, 6e-5, 1.6e-4,
       1.0e-4, 4e-5, 1.9e-4, 1.3e-4, 7e-5, 2.1e-4, 1.0e-4, 1.6e-4, 5e-5, 2.3e-4,
       1.4e-4, 1.9e-4, 8e-5, 2.6e-4, 1.7e-4, 2.2e-4, 1.1e-4, 2.9e-4, 2.0e-4, 2.5e-4,
       3.2e-4, 1.6e-4, 2.8e-4, 3.5e-4, 2.3e-4, 3.1e-4, 3.9e-4, 2.7e-4, 3.4e-4, 4.3e-4,
       3.0e-4, 3.8e-4, 4.7e-4, 3.3e-4]
c_5_b = [9.2e-4, 6.9e-4, 5.2e-4, 4.3e-4, 2.1e-4, 3.5e-4, 2.5e-4, 3.6e-4, 2.8e-4, 3.8e-4,
         1.2e-4, 4.0e-4, 3.4e-4, 4.4e-4, 3.8e-4, 4.9e-4, 4.3e-4, 5.4e-4, 4.8e-4, 6.0e-4,
         5.4e-4, 6.7e-4, 6.0e-4, 7.5e-4, 6.4e-4, 7.7e-4, 6.5e-4, 7.4e-4, 6.1e-4, 6.9e-4,
         5.6e-4, 6.1e-4, 4.9e-4, 5.4e-4, 4.2e-4, 4.7e-4, 3.6e-4, 4.0e-4, 3.0e-4, 3.4e-4,
         2.5e-4, 2.9e-4, 2.1e-4, 2.4e-4, 1.7e-4, 2.0e-4, 1.4e-4, 1.7e-4, 1.1e-4, 1.4e-4,
         8e-5, 1.2e-4, 5e-5, 1.5e-4, 1.0e-4, 3e-5, 1.3e-4, 7e-5, 1.7e-4, 1.1e-4,
         5e-5, 1.9e-4, 1.2e-4, 8e-5, 2.2e-4, 1.4e-4, 4e-5, 2.0e-4, 1.5e-4, 9e-5,
         2.4e-4, 1.6e-4, 2.8e-4, 1.2e-4, 2.2e-4, 3.1e-4, 1.8e-4, 2.6e-4, 3.5e-4, 2.1e-4,
         1.5e-4, 3.9e-4, 2.6e-4, 3.2e-4, 4.3e-4, 2.2e-4, 3.6e-4, 4.8e-4, 3.1e-4, 4.0e-4,
         5.3e-4, 3.5e-4, 4.6e-4, 6.0e-4]

c_10 = [0.092, 0.069, 0.058, 0.047, 0.040, 0.034, 0.029, 0.025, 0.022, 0.0193,
        0.0177, 0.0157, 0.0139, 0.0123, 0.0109, 0.0096, 0.0085, 0.0076, 0.0068, 0.0060,
        0.0054, 0.0048, 0.0043, 0.0038, 0.0034, 0.0030, 0.0027, 0.0024, 0.0021, 0.0019,
        0.0016, 0.0014, 0.0012, 0.0011,
        1.0e-3, 7.4e-4, 1.7e-4, 4.4e-4, 3.8e-4, 6.1e-5, 3.3e-4, 3.2e-4, 3.2e-4, 3.3e-4,
        3.5e-4, 3.7e-4, 3.9e-4, 4.1e-4, 4.3e-4, 4.5e-4, 4.8e-4, 5.1e-4, 5.4e-4, 5.7e-4,
        6.0e-4, 6.3e-4, 6.6e-4, 6.8e-4, 6.8e-4, 6.7e-4, 6.5e-4, 6.2e-4, 5.9e-4, 5.6e-4,
        5.2e-4, 4.9e-4, 4.5e-4, 4.2e-4, 3.8e-4, 3.5e-4, 3.2e-4, 2.9e-4, 2.6e-4, 2.3e-4,
        2.1e-4, 1.9e-4, 1.7e-4, 1.5e-4, 1.4e-4, 1.2e-4, 1.1e-4, 1.0e-4, 9e-5, 1.1e-4,
        7e-5, 1.2e-4, 5e-5, 9e-5, 1.3e-4, 3e-5, 1.0e-4, 6e-6, 2.3e-6, 1.4e-4,
        6e-5, 1.1e-4, 1.7e-4, 4e-5, 1.2e-4, 8e-5, 1.9e-4, 1.3e-4, 6e-5, 2.1e-4,
        1.5e-4, 1.0e-4, 2.4e-4, 1.7e-4, 7e-5, 2.6e-4, 1.9e-4, 1.2e-4, 2.9e-4, 2.1e-4,
        1.4e-4, 3.1e-4, 2.3e-4, 1.6e-4, 3.4e-4, 2.6e-4, 1.8e-4, 3.7e-4, 2.8e-4, 2.0e-4,
        4.0e-4, 3.1e-4, 2.3e-4, 4.3e-4]
c_10_b = [9.0e-4, 6.7e-4, 5.0e-4, 2.6e-4, 3.6e-4, 1.8e-4, 3.1e-4, 2.4e-4, 3.2e-4, 2.7e-4,
          3.5e-4, 3.0e-4, 3.9e-4, 3.3e-4, 4.3e-4, 3.7e-4, 4.7e-4, 4.1e-4, 5.2e-4, 4.6e-4,
          5.8e-4, 5.1e-4, 6.4e-4, 5.6e-4, 7.0e-4, 5.9e-4, 6.9e-4, 5.8e-4, 6.5e-4, 5.4e-4,
          5.9e-4, 4.8e-4, 5.3e-4, 4.2e-4, 4.6e-4, 3.6e-4, 4.0e-4, 3.1e-4, 3.4e-4, 2.6e-4,
          2.9e-4, 2.2e-4, 2.5e-4, 1.8e-4, 2.1e-4, 1.5e-4, 1.8e-4, 1.2e-4, 1.5e-4, 9e-5,
          1.3e-4, 6e-5, 1.1e-4, 1.6e-4, 4e-5, 1.2e-4, 8e-5, 1.7e-4, 1.0e-4, 6e-5,
          1.9e-4, 1.3e-4, 7e-5, 2.1e-4, 1.4e-4, 1.8e-5, 1.7e-4, 2.3e-4, 1.1e-4, 1.9e-4,
          2.6e-4, 1.5e-4, 2.1e-4, 2.9e-4, 1.2e-4, 2.4e-4, 3.2e-4, 1.7e-4, 2.7e-4, 3.5e-4,
          2.0e-4, 3.0e-4, 3.9e-4, 2.3e-4, 3.3e-4, 4.3e-4, 2.6e-4, 3.7e-4, 4.8e-4, 3.0e-4,
          4.1e-4, 5.3e-4, 3.4e-4, 4.6e-4]

c_21 = [0.088, 0.066, 0.055, 0.046, 0.039, 0.033, 0.028, 0.024, 0.0213, 0.019,
        0.0174, 0.0154, 0.0137, 0.0121, 0.0107, 0.0095, 0.0084, 0.0075, 0.0067, 0.0059,
        0.0053, 0.0047, 0.0042, 0.0037, 0.0033, 0.0030, 0.0026, 0.0023, 0.0021, 0.0018,
        0.0016, 0.0014, 0.0012, 0.0011,
        1.05e-3, 7.5e-4, 5.6e-4, 4.5e-4, 3.9e-4, 1.0e-4, 3.5e-4, 3.4e-4, 3.3e-4, 3.4e-4,
        3.6e-4, 3.8e-4, 4.0e-4, 4.2e-4, 4.4e-4, 4.6e-4, 4.9e-4, 3.7e-4, 5.5e-4, 5.8e-4,
        6.1e-4, 6.4e-4, 6.7e-4, 6.9e-4, 6.9e-4, 6.8e-4, 6.6e-4, 6.3e-4, 6.0e-4, 5.7e-4,
        5.3e-4, 5.0e-4, 4.6e-4, 4.3e-4, 3.9e-4, 3.6e-4, 3.2e-4, 2.9e-4, 2.6e-4, 2.3e-4,
        2.1e-4, 1.9e-4, 1.7e-4, 1.5e-4, 1.4e-4, 1.2e-4, 1.1e-4, 1.0e-4, 9.5e-5, 2.7e-6,
        1.1e-4, 7e-5, 2.2e-6, 1.0e-4, 5e-5, 3.8e-6, 1.2e-4, 8e-5, 3e-5, 1.4e-4,
        9e-5, 5e-5, 1.6e-4, 1.1e-4, 7e-5, 1.8e-4, 1.3e-4, 6e-5, 2.0e-4, 1.5e-4,
        8e-5, 2.2e-4, 1.7e-4, 1.0e-4, 2.4e-4, 3.3e-6, 1.1e-6, 1.3e-4, 2.7e-4, 2.1e-4,
        1.5e-4, 3.0e-4, 2.4e-4, 1.8e-4, 4.9e-4, 2.7e-4, 2.0e-4, 3.6e-4, 7.5e-6, 2.3e-4,
        3.9e-4, 3.3e-4, 2.6e-4, 4.2e-4]
c_21_b = [9.4e-4, 6.9e-4, 5.2e-4, 4.2e-4, 3.6e-4, 1.6e-4, 3.2e-4, 2.2e-4, 3.3e-4, 2.6e-4,
          3.6e-4, 3.0e-4, 4.0e-4, 3.4e-4, 4.4e-4, 3.8e-4, 4.8e-4, 4.2e-4, 5.3e-4, 4.7e-4,
          5.9e-4, 5.2e-4, 6.5e-4, 5.7e-4, 7.1e-4, 6.0e-4, 7.0e-4, 5.9e-4, 6.6e-4, 5.5e-4,
          6.0e-4, 4.9e-4, 5.4e-4, 4.3e-4, 4.7e-4, 3.7e-4, 4.1e-4, 3.2e-4, 3.5e-4, 2.7e-4,
          3.0e-4, 2.3e-4, 2.6e-4, 1.9e-4, 2.2e-4, 1.6e-4, 1.9e-4, 1.3e-4, 1.6e-4, 1.0e-4,
          1.4e-4, 7e-5, 1.2e-4, 4e-5, 1.7e-4, 1.0e-4, 6e-5, 1.5e-4, 3e-6, 1.1e-4,
          1.9e-4, 8e-5, 1.4e-4, 2.2e-4, 5e-5, 1.6e-4, 2.4e-4, 1.2e-4, 6e-6, 1.9e-4,
          2.6e-4, 1.4e-4, 2.2e-4, 2.9e-4, 1.7e-4, 2.5e-4, 1.2e-4, 3.2e-4, 2.0e-4, 2.8e-4,
          3.6e-4, 2.3e-4, 3.1e-4, 4.0e-4, 1.8e-4, 3.4e-4, 4.5e-4, 2.7e-4, 3.8e-4, 5.0e-4,
          3.1e-4, 4.3e-4, 5.6e-4, 3.6e-4]

COLORS = {"0": "#000000", "1": "#1414ff", "3": "#00ffff", "5": "#ffff00",
          "10": "#ff7f00", "21": "#8b0000"}

# series per panel, drawn in this order (last on top): (label, main set, extra set)
panels = [
    [("21", a_21, a_21_b), ("10", a_10, a_10_b), ("3", a_3, a_3_b),
     ("1", a_1, a_1_b), ("0", dlps_0, dlps_0_b)],
    [("21", b_21, b_21_b), ("5", b_5, b_5_b), ("3", b_3, b_3_b),
     ("1", b_1, b_1_b), ("0", dlps_0, dlps_0_b)],
    [("21", c_21, c_21_b), ("10", c_10, c_10_b), ("5", c_5, c_5_b),
     ("3", c_3, c_3_b), ("1", c_1, c_1_b), ("0", c_0, c_0_b)],
]
legend_order = [["0", "1", "3", "10", "21"], ["0", "1", "3", "5", "21"],
                ["0", "1", "3", "5", "10", "21"]]

# ---------------- figure ----------------
W, H = 1167, 394
MT, MB = 17, 69
PH = H - MT - MB


def px(x):
    return x / W


def py(y):
    return (H - MB - y) / PH


fig = go.Figure()
for i, series in enumerate(panels):
    sfx = "" if i == 0 else str(i + 1)
    for key, vals, extra in series:
        fig.add_trace(go.Scatter(
            x=q + q2, y=vals + extra, mode="markers", xaxis="x" + sfx, yaxis="y" + sfx,
            marker=dict(size=6, color=COLORS[key], line=dict(width=0)),
            showlegend=False, hoverinfo="skip"))

FONT = "Liberation Sans, Arial, sans-serif"
AXC = "#333333"
y_minor = [m * 10.0 ** e for e in range(-6, 0) for m in range(2, 10)]
x_minor = [0.005, 0.006, 0.007, 0.008, 0.009, 0.02, 0.03, 0.04, 0.05, 0.06,
           0.07, 0.08, 0.09, 0.2, 0.3]

domains = [(88, 393), (476, 782), (864, 1165)]
xranges = [[-2.3125, -0.418], [-2.3125, -0.418], [-2.353, -0.415]]

layout = dict(width=W, height=H, margin=dict(l=0, r=0, t=MT, b=MB),
              paper_bgcolor="white", plot_bgcolor="white", showlegend=False,
              font=dict(family=FONT, size=18, color="#111111"))
for i in range(3):
    sfx = "" if i == 0 else str(i + 1)
    layout["xaxis" + sfx] = dict(
        type="log", range=xranges[i], domain=[px(domains[i][0]), px(domains[i][1])],
        anchor="y" + sfx, showgrid=False, zeroline=False, showline=True,
        linecolor=AXC, linewidth=1, ticks="outside", ticklen=7, tickwidth=1,
        tickcolor=AXC, tickmode="array", tickvals=[0.01, 0.1],
        ticktext=["0.01", "0.1"], tickfont=dict(family=FONT, size=18, color="#111111"),
        ticklabelstandoff=6,
        minor=dict(tickmode="array", tickvals=x_minor, ticks="outside",
                   ticklen=4, tickwidth=1, tickcolor=AXC, showgrid=False))
    layout["yaxis" + sfx] = dict(
        type="log", range=[-6, 0], domain=[0, 1], anchor="x" + sfx,
        showgrid=False, zeroline=False, showline=True, linecolor=AXC, linewidth=1,
        ticks="outside", ticklen=10, tickwidth=1, tickcolor=AXC,
        tickmode="array", tickvals=[1, 0.1, 0.01, 1e-3, 1e-4, 1e-5, 1e-6],
        ticktext=["1", "0.1", "0.01", "10<sup>\u22123</sup>", "10<sup>\u22124</sup>",
                  "10<sup>\u22125</sup>", "10<sup>\u22126</sup>"],
        tickfont=dict(family=FONT, size=18, color="#111111"), ticklabelstandoff=4,
        minor=dict(tickmode="array", tickvals=y_minor, ticks="outside",
                   ticklen=5, tickwidth=1, tickcolor=AXC, showgrid=False))
fig.update_layout(**layout)

ann = []


def text(x, y, s, size=20, color="#111111", xanchor="center", angle=0):
    ann.append(dict(x=px(x), y=py(y), xref="paper", yref="paper", text=s,
                    showarrow=False, xanchor=xanchor, yanchor="middle",
                    textangle=angle, font=dict(family=FONT, size=size, color=color)))


# panel letters and lipid names
for lx, letter in [(20, "A"), (412, "B"), (795, "C")]:
    text(lx, 22, letter, size=21)
text(91, 28, "DLPS", size=23, color="#138a13", xanchor="left")
text(479, 28, "DLPS", size=23, color="#138a13", xanchor="left")
text(870, 28, "DMPS", size=23, color="#1a1aff", xanchor="left")

# legends: (time-label x, y, number centre x, first number y)
leg = [(92, 190, 135, 211), (479, 170, 523, 191), (870, 170, 913, 191)]
for i, (tx, ty, nx, ny) in enumerate(leg):
    text(tx, ty, "time (ms)", size=20, xanchor="left")
    for j, key in enumerate(legend_order[i]):
        text(nx, ny + 20 * j, key, size=20, color=COLORS[key])

# axis titles
for cx in [20, 408, 795]:
    text(cx, 170, "Intensity", size=20, angle=-90)
for (d0, d1) in domains:
    text((d0 + d1) / 2, 382, "q (\u00c5<sup>-1</sup>)", size=20)

fig.update_layout(annotations=ann)
fig.write_html("out.html")
